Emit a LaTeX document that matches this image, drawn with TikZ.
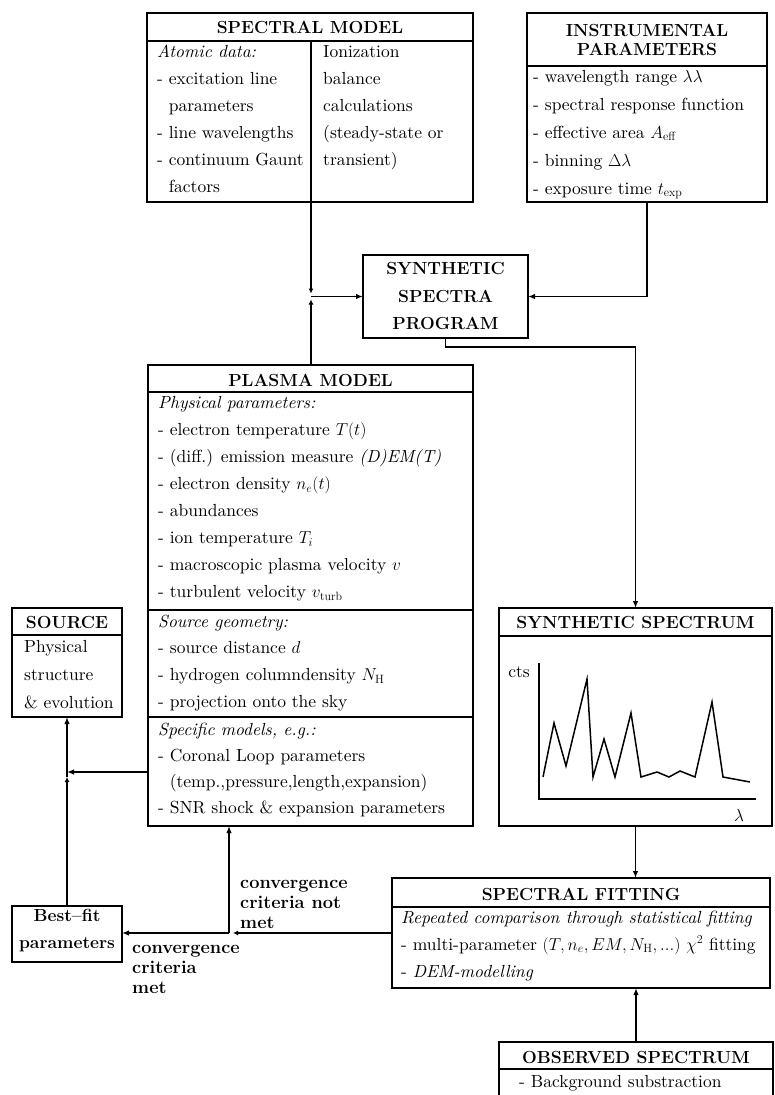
\documentclass[tikz,border=0pt]{standalone}
\usetikzlibrary{arrows.meta,calc}
\DeclareFontFamily{TU}{lmrten}{}
\DeclareFontShape{TU}{lmrten}{m}{n}{<-> "[lmroman10-regular]:mapping=tex-text"}{}
\DeclareFontShape{TU}{lmrten}{m}{it}{<-> "[lmroman10-italic]:mapping=tex-text"}{}
\newcommand\bodyfont{\fontfamily{lmrten}\selectfont}
\begin{document}
\begin{tikzpicture}[x=1pt,y=-1pt,
  box/.style={draw, line width=2.3pt, inner sep=0pt, outer sep=0pt, anchor=north west},
  sep/.style={line width=2.3pt},
  conn/.style={line width=1.8pt},
  arr/.style={conn, -{Latex[length=7pt,width=5.5pt]}},
  tip/.style={conn, -{Latex[length=5pt,width=5pt]}},
  ttl/.style={font=\bfseries\fontsize{17.5}{27.5}\selectfont, inner sep=0pt, align=center},
  txt/.style={font=\bodyfont\fontsize{17.5}{27}\selectfont, inner sep=0pt, anchor=north west, align=left},
  lbl/.style={font=\bfseries\fontsize{18.2}{20}\selectfont, inner sep=0pt, anchor=north west, align=left},
]
\useasboundingbox (0,0) rectangle (774,1095);
\fill[white] (0,0) rectangle (774,1095);

% ---------------- SPECTRAL MODEL
\node[box, minimum width=326pt, minimum height=189pt] (spec) at (147,13) {};
\draw[sep] (147,41) -- (473,41);
\draw[conn] (311,41) -- (311,202);
\node[ttl] (specT) at (310,27) {SPECTRAL MODEL};
\node[txt] (specL) at (157,38) {\strut\textit{Atomic data:}\\
- excitation line\\
\phantom{- }parameters\\
- line wavelengths\\
- continuum Gaunt\\
\phantom{- }factors};
\node[txt] (specR) at (323,38) {\strut Ionization\\balance\\calculations\\(steady-state or\\transient)};

% ---------------- INSTRUMENTAL PARAMETERS
\node[box, minimum width=240pt, minimum height=189pt] (inst) at (527,13) {};
\draw[sep] (527,66) -- (767,66);
\node[ttl, font=\bfseries\fontsize{17.5}{19.5}\selectfont] (instT) at (647,40) {INSTRUMENTAL\\PARAMETERS};
\node[txt, font=\bodyfont\fontsize{17.5}{28}\selectfont] (instL) at (533,62.5) {\strut- wavelength range $\lambda\lambda$\\
- spectral response function\\
- effective area $A_{\rm eff}$\\
- binning $\Delta\lambda$\\
- exposure time $t_{\rm exp}$};

% ---------------- SYNTHETIC SPECTRA PROGRAM
\node[box, minimum width=165pt, minimum height=83pt] (ssp) at (363,255) {};
\node[ttl] (sspT) at (445.5,296) {SYNTHETIC\\SPECTRA\\PROGRAM};

% ---------------- PLASMA MODEL
\node[box, minimum width=325pt, minimum height=461pt] (plasma) at (148,365) {};
\draw[sep] (148,392) -- (473,392);
\draw[sep] (148,610) -- (473,610);
\draw[sep] (148,717) -- (473,717);
\node[ttl] (plasmaT) at (310.5,380) {PLASMA MODEL};
\node[txt, font=\bodyfont\fontsize{17.5}{27.1}\selectfont] (plasmaA) at (158,389) {\strut\textit{Physical parameters:}\\
- electron temperature $T(t)$\\
- (diff.) emission measure \textit{(D)EM(T)}\\
- electron density $n_e(t)$\\
- abundances\\
- ion temperature $T_i$\\
- macroscopic plasma velocity $v$\\
- turbulent velocity $v_{\rm turb}$};
\node[txt, font=\bodyfont\fontsize{17.5}{26.7}\selectfont] (plasmaB) at (158,608.3) {\strut\textit{Source geometry:}\\
- source distance $d$\\
- hydrogen columndensity $N_{\rm H}$\\
- projection onto the sky};
\node[txt, font=\bodyfont\fontsize{17.5}{26}\selectfont] (plasmaC) at (158,716.8) {\strut\textit{Specific models, e.g.:}\\
- Coronal Loop parameters\\
\phantom{- }(temp.,pressure,length,expansion)\\
- SNR shock \& expansion parameters};

% ---------------- SOURCE
\node[box, minimum width=110pt, minimum height=109pt] (src) at (12,608) {};
\draw[sep] (12,635) -- (122,635);
\node[ttl] (srcT) at (67,622) {SOURCE};
\node[txt, font=\bodyfont\fontsize{17.5}{28}\selectfont] (srcL) at (24,632.4) {\strut Physical\\structure\\\& evolution};

% ---------------- BEST-FIT
\node[box, minimum width=110pt, minimum height=56pt] (bf) at (12,906) {};
\node[ttl, font=\bfseries\fontsize{17.5}{27}\selectfont] (bfT) at (67,931) {Best--fit\\parameters};

% ---------------- SYNTHETIC SPECTRUM
\node[box, minimum width=273pt, minimum height=218pt] (ss) at (499,608) {};
\draw[sep] (499,636) -- (772,636);
\node[ttl] (ssT) at (635.5,622) {SYNTHETIC SPECTRUM};
\draw[conn, line width=1.5pt] (539,663) -- (539,799) -- (756,799);
\node[font=\bodyfont\fontsize{17.5}{27}\selectfont, inner sep=0pt] (cts) at (519,672) {cts};
\node[font=\fontsize{17.5}{27}\selectfont, inner sep=0pt] (lam) at (739,815) {$\lambda$};
\draw[line width=1.5pt, line join=miter] (543,777) -- (554,723) -- (566,766) -- (587,679) -- (593,777) -- (604,739) -- (615,777) -- (631,713) -- (641,777) -- (657,772) -- (669,777) -- (680,771) -- (695,777) -- (712,702) -- (723,777) -- (750,782);

% ---------------- SPECTRAL FITTING
\node[box, minimum width=378pt, minimum height=110pt] (sf) at (392,878) {};
\draw[sep] (392,907) -- (770,907);
\node[ttl] (sfT) at (581,894) {SPECTRAL FITTING};
\node[txt] (sfL) at (401,904) {\strut\textit{Repeated comparison through statistical fitting}\\
- multi-parameter $(T, n_e, EM, N_{\rm H}, ...)$ $\chi^2$ fitting\\
- \textit{DEM-modelling}};

% ---------------- OBSERVED SPECTRUM
\node[box, minimum width=274pt, minimum height=90pt] (os) at (499,1042) {};
\draw[sep] (499,1069) -- (773,1069);
\node[ttl] (osT) at (636,1057) {OBSERVED SPECTRUM};
\node[txt] (osL) at (519,1068.1) {\strut- Background substraction};

% ---------------- labels
\node[lbl] (notmet) at (240,874) {\strut convergence\\criteria not\\met};
\node[lbl] (met) at (132,939) {\strut convergence\\criteria\\met};

% ---------------- connectors
\coordinate (J) at (311,296.5);
\draw[tip] (spec.south -| J) -- ($(J)+(0,-3)$);
\draw[tip] (plasma.north -| J) -- ($(J)+(0,3)$);
\draw[arr] (J) -- (ssp.west);
\draw[arr] (inst.south) |- (ssp.east);
\draw[arr] (ssp.south) -- ++(0,9) -| (ss.north);
\draw[arr] (ss.south) -- (ss.south |- sf.north);
\draw[arr] (os.north) -- (os.north |- sf.south);

\coordinate (K) at (229,933);
\draw[tip] (sf.west) -- ($(K)+(4,0)$);
\draw[arr] (K) -- (bf.east |- K);
\draw[arr] (K) -- (K |- plasma.south);

\coordinate (L) at (67,772);
\draw[arr] (plasma.west |- L) -- (L);
\draw[tip] (bf.north) -- ($(L)+(0,5)$);
\draw[arr] ($(L)+(0,5)$) -- (src.south);
\end{tikzpicture}
\end{document}
